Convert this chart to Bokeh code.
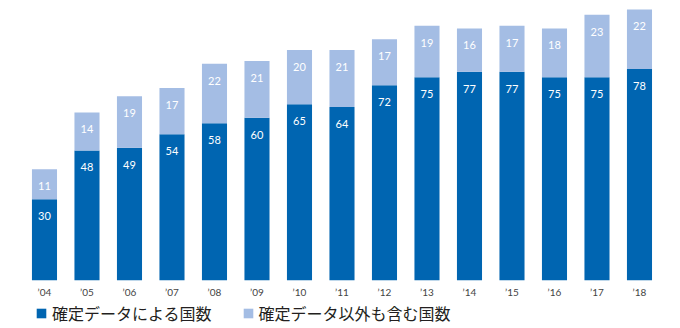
from bokeh.plotting import figure
from bokeh.layouts import column
from bokeh.models import ColumnDataSource, Legend, LegendItem, Range1d, FixedTicker
from bokeh.core.properties import value
from bokeh.embed import file_html
from bokeh.resources import INLINE

years = ["’04", "’05", "’06", "’07", "’08", "’09", "’10", "’11", "’12", "’13", "’14", "’15", "’16", "’17", "’18"]
confirmed = [30, 48, 49, 54, 58, 60, 65, 64, 72, 75, 77, 77, 75, 75, 78]
others = [11, 14, 19, 17, 22, 21, 20, 21, 17, 19, 16, 17, 18, 23, 22]
series_names = ["確定データによる国数", "確定データ以外も含む国数"]
colors = ["#0065b1", "#a4bde4"]

xs = list(range(len(years)))
totals = [a + b for a, b in zip(confirmed, others)]
src = ColumnDataSource(dict(
    x=xs, confirmed=confirmed, others=others, totals=totals,
    c_lab=[str(v) for v in confirmed],
    o_lab=[str(v) for v in others],
))

p = figure(width=680, height=300, output_backend="svg", toolbar_location=None,
           x_range=Range1d(-1.035, 14.965), y_range=Range1d(0, 103.3),
           min_border_left=0, min_border_right=0, min_border_top=0, min_border_bottom=17)
p.outline_line_color = None
p.xgrid.visible = False
p.ygrid.visible = False
p.yaxis.visible = False

p.vbar(x="x", bottom=0, top="confirmed", width=0.59, fill_color=colors[0], line_color=None, source=src)
p.vbar(x="x", bottom="confirmed", top="totals", width=0.59, fill_color=colors[1], line_color=None, source=src)

for ycol, tcol in [("confirmed", "c_lab"), ("totals", "o_lab")]:
    p.text(x="x", y=ycol, text=tcol, source=src, text_color="white",
           text_font=value("Lato"), text_font_size="11px",
           text_align="center", text_baseline="middle", y_offset=17)

ax = p.xaxis[0]
ax.ticker = FixedTicker(ticks=xs)
ax.major_label_overrides = {i: y for i, y in enumerate(years)}
ax.axis_line_color = None
ax.major_tick_line_color = None
ax.minor_tick_line_color = None
ax.major_tick_out = 0
ax.major_tick_in = 0
ax.major_label_standoff = 5
ax.major_label_text_font = "Lato"
ax.major_label_text_font_size = "10px"
ax.major_label_text_color = "#444444"

# legend strip (dummy renderers sit outside the visible range)
lg = figure(width=680, height=28, output_backend="svg", toolbar_location=None,
            x_range=Range1d(0, 1), y_range=Range1d(0, 1),
            min_border_left=0, min_border_right=0, min_border_top=0, min_border_bottom=0)
lg.outline_line_color = None
lg.axis.visible = False
lg.grid.visible = False
dummy = ColumnDataSource(dict(x=[-10], top=[-10]))
g1 = lg.vbar(x="x", top="top", bottom=-11, width=0.1, fill_color=colors[0], line_color=None, source=dummy)
g2 = lg.vbar(x="x", top="top", bottom=-11, width=0.1, fill_color=colors[1], line_color=None, source=dummy)
legend = Legend(items=[LegendItem(label=series_names[0], renderers=[g1]),
                       LegendItem(label=series_names[1], renderers=[g2])],
                orientation="horizontal", location=(35, 3),
                glyph_width=12, glyph_height=12, label_standoff=5, spacing=30,
                margin=0, padding=0, border_line_color=None,
                label_text_font="Noto Sans CJK JP", label_text_font_size="16px",
                label_text_color="#231f20", background_fill_alpha=0)
lg.add_layout(legend)

open("out.html", "w").write(file_html(column(p, lg, spacing=0), INLINE))
